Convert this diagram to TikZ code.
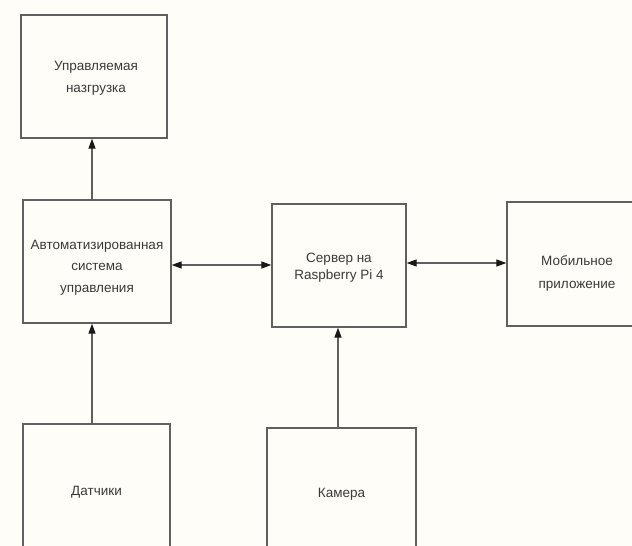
\documentclass[tikz,border=0pt]{standalone}
\usepackage{fontspec}
\setmainfont{Liberation Sans}
\usetikzlibrary{arrows.meta}
\definecolor{bg}{HTML}{FFFDF7}
\definecolor{ln}{HTML}{606060}
\definecolor{tx}{HTML}{3A3A3A}
\tikzset{
  blk/.style={draw=ln, line width=1.3pt, fill=bg, inner sep=0pt},
  txt/.style={text=tx, align=center, inner sep=0pt},
  arr/.style={draw=ln, line width=1.2pt, -{Triangle[length=10pt,width=7pt,color=black!90]}},
  darr/.style={draw=ln, line width=1.2pt, {Triangle[length=10pt,width=7pt,color=black!90]}-{Triangle[length=10pt,width=7pt,color=black!90]}}
}
\begin{document}
\begin{tikzpicture}[x=1pt,y=-1pt]
\fill[bg] (0,0) rectangle (632,546);
\useasboundingbox (0,0) rectangle (632,546);
\clip (0,0) rectangle (632,546);
\node[blk, minimum width=146pt, minimum height=123pt] (load) at (94,76.5) {};
\node[blk, minimum width=148pt, minimum height=123pt] (asu) at (97,261.5) {};
\node[blk, minimum width=134pt, minimum height=123pt] (srv) at (339,265.5) {};
\node[blk, minimum width=140pt, minimum height=124pt] (mob) at (577,264) {};
\node[blk, minimum width=147pt, minimum height=134pt] (sens) at (96.5,491) {};
\node[blk, minimum width=149pt, minimum height=130pt] (cam) at (341.5,493) {};
\node[txt, font=\fontsize{13.5}{22}\selectfont] (loadt) at ([xshift=2pt,yshift=-2pt]load.center) {Управляемая\\назгрузка};
\node[txt, font=\fontsize{13.5}{21.5}\selectfont] (asut) at ([yshift=-6pt]asu.center) {Автоматизированная\\система\\управления};
\node[txt, font=\fontsize{13.5}{17}\selectfont] (srvt) at ([yshift=-2pt]srv.center) {Сервер на\\Raspberry Pi 4};
\node[txt, font=\fontsize{13.5}{23}\selectfont] (mobt) at ([yshift=-9pt]mob.center) {Мобильное\\приложение};
\node[txt, font=\fontsize{13.5}{16}\selectfont] (senst) at ([yshift=-1pt]sens.center) {Датчики};
\node[txt, font=\fontsize{13.5}{16}\selectfont] (camt) at ([yshift=-1pt]cam.center) {Камера};
\coordinate (ax) at (92,0);
\coordinate (cx) at (338,0);
\coordinate (ay) at (0,265);
\coordinate (by) at (0,263);
\draw[arr] (asu.north -| ax) -- (load.south -| ax);
\draw[arr] (sens.north -| ax) -- (asu.south -| ax);
\draw[arr] (cam.north -| cx) -- (srv.south -| cx);
\draw[darr] (asu.east |- ay) -- (srv.west |- ay);
\draw[darr] (srv.east |- by) -- (mob.west |- by);
\end{tikzpicture}
\end{document}
